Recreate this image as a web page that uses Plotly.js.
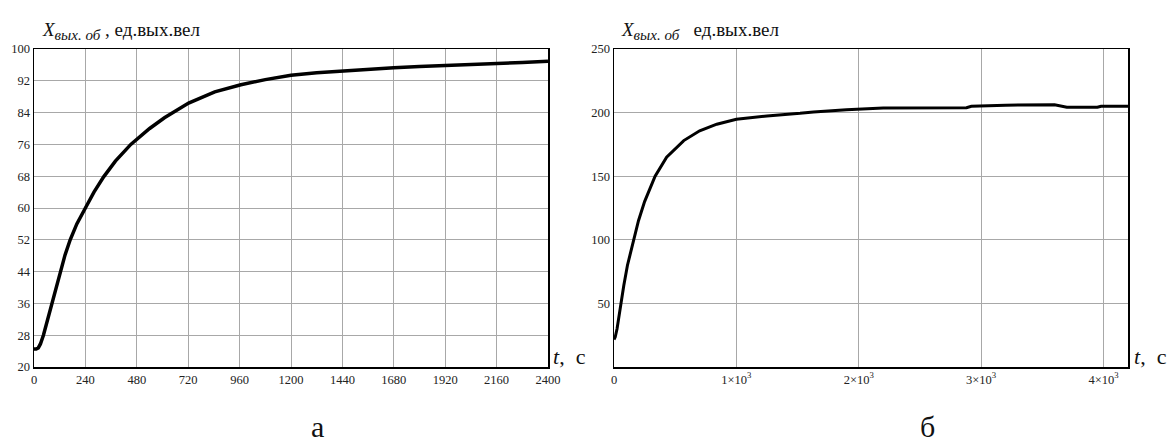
<!DOCTYPE html>
<html>
<head>
<meta charset="utf-8">
<script src="https://cdn.plot.ly/plotly-3.0.1.min.js"></script>
<style>html,body{margin:0;padding:0;background:#fff;}#chart{width:1175px;height:445px;}</style>
</head>
<body>
<div id="chart"></div>
<script>
// Panel "а"
const timeA = [0, 10, 20, 30, 44, 60, 83, 100, 122, 145, 169, 200, 240, 280, 326, 380, 452, 540, 609, 722, 844, 966, 1080, 1200, 1320, 1440, 1560, 1680, 1800, 1920, 2040, 2160, 2280, 2400];
const valueA = [24.5, 24.5, 24.8, 25.8, 28, 31.3, 36, 39.5, 44, 48.2, 52, 56.0, 60, 64.0, 67.9, 71.8, 76.0, 80.0, 82.7, 86.4, 89.2, 91.0, 92.3, 93.4, 94.0, 94.5, 94.9, 95.3, 95.6, 95.8, 96.0, 96.3, 96.6, 96.9];
const xTicksA = [0, 240, 480, 720, 960, 1200, 1440, 1680, 1920, 2160, 2400];
const yTicksA = [20, 28, 36, 44, 52, 60, 68, 76, 84, 92, 100];

// Panel "б"
const timeB = [0, 10, 25, 40, 55, 80, 110, 158, 200, 250, 336, 430, 570, 700, 840, 1000, 1250, 1520, 1630, 1900, 2000, 2200, 2880, 2920, 3200, 3600, 3700, 3950, 3980, 4200];
const valueB = [21.6, 23.5, 30, 40, 50, 64, 80, 100, 115, 130, 150, 165, 178, 185.7, 190.9, 194.8, 197.4, 199.4, 200.5, 202.3, 202.9, 203.7, 203.9, 205, 205.8, 206.2, 204.3, 204.2, 205, 205];
const xTicksB = [0, 1000, 2000, 3000, 4000];
const xTickTextB = ['0', '1×10<sup>3</sup>', '2×10<sup>3</sup>', '3×10<sup>3</sup>', '4×10<sup>3</sup>'];
const yTicksB = [50, 100, 150, 200, 250];

const serif = 'Liberation Serif';
const tickFont = {family: serif, size: 12.5, color: '#222'};

const traces = [
  {x: timeA, y: valueA, xaxis: 'x', yaxis: 'y', mode: 'lines', line: {color: '#000', width: 3.5}, hoverinfo: 'skip'},
  {x: timeB, y: valueB, xaxis: 'x2', yaxis: 'y2', mode: 'lines', line: {color: '#000', width: 3}, hoverinfo: 'skip'}
];

const axBase = {
  showline: true, linecolor: '#000', linewidth: 1.5, mirror: true,
  showgrid: true, gridcolor: '#a8a8a8', gridwidth: 1,
  zeroline: false, ticks: '', tickfont: tickFont, fixedrange: true
};

const L = 34, R = 1128, T = 49, B = 367.5, H = 445;
const px = v => (v - L) / (R - L);
const py = v => (B - v) / (B - T);

const subStyle = '<span style="font-size:15px"><i>вых. об</i></span>';

const layout = {
  width: 1175, height: 445,
  margin: {l: L, r: 1175 - R, t: T, b: H - B},
  paper_bgcolor: '#fff', plot_bgcolor: '#fff',
  showlegend: false,
  font: {family: serif, color: '#222'},
  xaxis: Object.assign({}, axBase, {domain: [0, px(548)], range: [0, 2400], tickvals: xTicksA, ticktext: xTicksA.map(String), anchor: 'y'}),
  yaxis: Object.assign({}, axBase, {domain: [0, 1], range: [20, 100], tickvals: yTicksA, ticktext: yTicksA.map(String), anchor: 'x'}),
  xaxis2: Object.assign({}, axBase, {domain: [px(614), 1], range: [0, 4200], tickvals: xTicksB, ticktext: xTickTextB, anchor: 'y2'}),
  yaxis2: Object.assign({}, axBase, {domain: [0, 1], range: [0, 250], tickvals: yTicksB, ticktext: yTicksB.map(String), anchor: 'x2'}),
  annotations: [
    {xref: 'paper', yref: 'paper', x: px(40), y: py(31), xanchor: 'left', yanchor: 'middle', showarrow: false,
     text: '<i>X</i><sub>' + subStyle + '</sub> , ед.вых.вел', font: {family: serif, size: 19, color: '#111'}},
    {xref: 'paper', yref: 'paper', x: px(619), y: py(31), xanchor: 'left', yanchor: 'middle', showarrow: false,
     text: '<i>X</i><sub>' + subStyle + '</sub>   ед.вых.вел', font: {family: serif, size: 19, color: '#111'}},
    {xref: 'paper', yref: 'paper', x: px(551), y: py(357), xanchor: 'left', yanchor: 'middle', showarrow: false,
     text: '<i>t</i>,  с', font: {family: serif, size: 22, color: '#111'}},
    {xref: 'paper', yref: 'paper', x: px(1132), y: py(357), xanchor: 'left', yanchor: 'middle', showarrow: false,
     text: '<i>t</i>,  с', font: {family: serif, size: 22, color: '#111'}},
    {xref: 'paper', yref: 'paper', x: px(318), y: py(427), xanchor: 'center', yanchor: 'middle', showarrow: false,
     text: 'а', font: {family: serif, size: 30, color: '#111'}},
    {xref: 'paper', yref: 'paper', x: px(927), y: py(427), xanchor: 'center', yanchor: 'middle', showarrow: false,
     text: 'б', font: {family: serif, size: 30, color: '#111'}}
  ]
};

Plotly.newPlot('chart', traces, layout, {staticPlot: true, displayModeBar: false});
</script>
</body>
</html>
